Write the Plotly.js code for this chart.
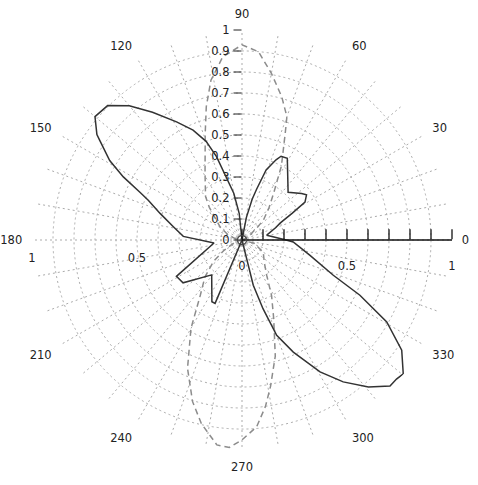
<!DOCTYPE html>
<html>
<head>
<meta charset="utf-8">
<script src="https://cdn.plot.ly/plotly-3.0.1.min.js"></script>
<style>html,body{margin:0;padding:0;background:#fff;}#chart{width:478px;height:485px;}</style>
</head>
<body>
<div id="chart"></div>
<script>
// Solid pattern (angle in degrees, normalized radius)
const solidTheta = [0, 11, 20, 24, 28, 31, 35, 38, 46, 61, 65, 67, 71, 74, 76, 79, 88,
  96, 100, 107, 110, 114, 119, 125, 130, 135, 140, 144, 145, 149, 152, 155, 157, 162, 169, 176.5,
  186, 209, 216, 229, 244, 247, 265,
  284, 287, 290, 294.6, 300.6, 305.5, 310.7, 315.4, 318, 320.3, 325.4, 330.5, 334.9, 338.9, 347.3, 357.8, 360];
const solidR = [0.21, 0.12, 0.17, 0.20, 0.27, 0.35, 0.375, 0.36, 0.316, 0.445, 0.44, 0.415, 0.353, 0.25, 0.2, 0.11, 0.0,
  0.128, 0.226, 0.415, 0.50, 0.573, 0.643, 0.743, 0.835, 0.905, 0.914, 0.854, 0.827, 0.735, 0.64, 0.535, 0.485, 0.41, 0.333, 0.28,
  0.134, 0.357, 0.347, 0.22, 0.327, 0.328, 0.0,
  0.222, 0.342, 0.483, 0.587, 0.73, 0.83, 0.923, 0.99, 0.99, 0.998, 0.924, 0.792, 0.62, 0.466, 0.332, 0.244, 0.21];

// Dashed pattern
const dashTheta = [0, 15, 30, 40, 43, 50, 56, 62, 68, 70, 74.5, 80, 85, 90, 96, 101, 105, 109, 119, 130, 135, 140, 149, 160, 170, 180,
  190, 200, 210, 217, 225, 233, 240, 247, 253, 257.5, 263, 266.5, 270, 274.5, 278, 281, 286, 292, 298, 305, 315, 330, 345, 360];
const dashR = [0.0, 0.01, 0.04, 0.1, 0.14, 0.2, 0.27, 0.4, 0.55, 0.625, 0.708, 0.806, 0.9, 0.929, 0.877, 0.775, 0.657, 0.538, 0.363, 0.27, 0.22, 0.17, 0.122, 0.07, 0.03, 0.0,
  0.01, 0.04, 0.1, 0.17, 0.25, 0.33, 0.486, 0.664, 0.805, 0.895, 0.983, 0.99, 0.952, 0.892, 0.801, 0.711, 0.575, 0.403, 0.3, 0.205, 0.15, 0.117, 0.06, 0.0];

// Origin marker
const originR = [0];
const originTheta = [0];

// Tick labels
const angleTicks = [];
const angleLabels = [];
for (let a = 0; a < 360; a += 10) { angleTicks.push(a); angleLabels.push(a % 30 === 0 ? String(a) : ''); }
const radialTicks = [0, 0.1, 0.2, 0.3, 0.4, 0.5, 0.6, 0.7, 0.8, 0.9, 1];
const radialLabels = ['0', '0.1', '0.2', '0.3', '0.4', '0.5', '0.6', '0.7', '0.8', '0.9', '1'];
const rightLabels = ['<br>0', '', '', '', '', '<br>0.5', '', '', '', '', '<br>1'];
const leftTicks = [0.5, 1];
const leftLabels = ['<br>0.5', '<br>1'];

const FONT = {family: 'DejaVu Sans, Verdana, sans-serif', size: 11.5, color: '#222'};
const GRID = '#ababab';

const hiddenAngular = {showgrid: false, showticklabels: false, showline: false, ticks: ''};

const data = [
  {type: 'scatterpolar', subplot: 'polar', r: dashR, theta: dashTheta, mode: 'lines',
   line: {color: '#8c8c8c', width: 1.5, dash: '6px,4px'}, hoverinfo: 'skip'},
  {type: 'scatterpolar', subplot: 'polar2', r: solidR, theta: solidTheta, mode: 'lines',
   line: {color: '#333', width: 1.5}, hoverinfo: 'skip'},
  {type: 'scatterpolar', subplot: 'polar3', r: originR, theta: originTheta, mode: 'markers',
   marker: {symbol: 'circle-open', size: 9, color: '#444', line: {width: 1.3}}, hoverinfo: 'skip'}
];

const layout = {
  width: 478, height: 485,
  margin: {l: 32, r: 26, t: 30, b: 35, pad: 0},
  paper_bgcolor: '#fff',
  showlegend: false,
  font: FONT,
  polar: {
    domain: {x: [0, 1], y: [0, 1]},
    bgcolor: '#fff',
    angularaxis: {
      rotation: 0, direction: 'counterclockwise',
      tickmode: 'array', tickvals: angleTicks, ticktext: angleLabels,
      showline: false, ticks: 'outside', ticklen: 7, tickcolor: 'rgba(0,0,0,0)',
      gridcolor: GRID, griddash: '2px,3px', gridwidth: 1, tickfont: FONT
    },
    radialaxis: {
      range: [0, 1], angle: 90, side: 'counterclockwise',
      tickmode: 'array', tickvals: radialTicks, ticktext: radialLabels,
      ticks: 'outside', ticklen: 8, tickcolor: '#222', tickwidth: 1,
      showline: false, gridcolor: GRID, griddash: '2px,3px', gridwidth: 1,
      tickfont: FONT, tickangle: 90
    }
  },
  polar2: {
    domain: {x: [0, 1], y: [0, 1]},
    bgcolor: 'rgba(0,0,0,0)',
    angularaxis: hiddenAngular,
    radialaxis: {
      range: [0, 1], angle: 0, side: 'clockwise',
      tickmode: 'array', tickvals: radialTicks, ticktext: rightLabels,
      ticks: 'inside', ticklen: 10, tickcolor: '#111', tickwidth: 1.3,
      showline: true, linecolor: '#111', linewidth: 1.5, showgrid: false,
      tickfont: FONT
    }
  },
  polar3: {
    domain: {x: [0, 1], y: [0, 1]},
    bgcolor: 'rgba(0,0,0,0)',
    angularaxis: hiddenAngular,
    radialaxis: {
      range: [0, 1], angle: 180, side: 'counterclockwise',
      tickmode: 'array', tickvals: leftTicks, ticktext: leftLabels,
      ticks: '', showline: false, showgrid: false, tickfont: FONT, tickangle: 180
    }
  }
};

Plotly.newPlot('chart', data, layout, {staticPlot: true, displayModeBar: false});
</script>
</body>
</html>
